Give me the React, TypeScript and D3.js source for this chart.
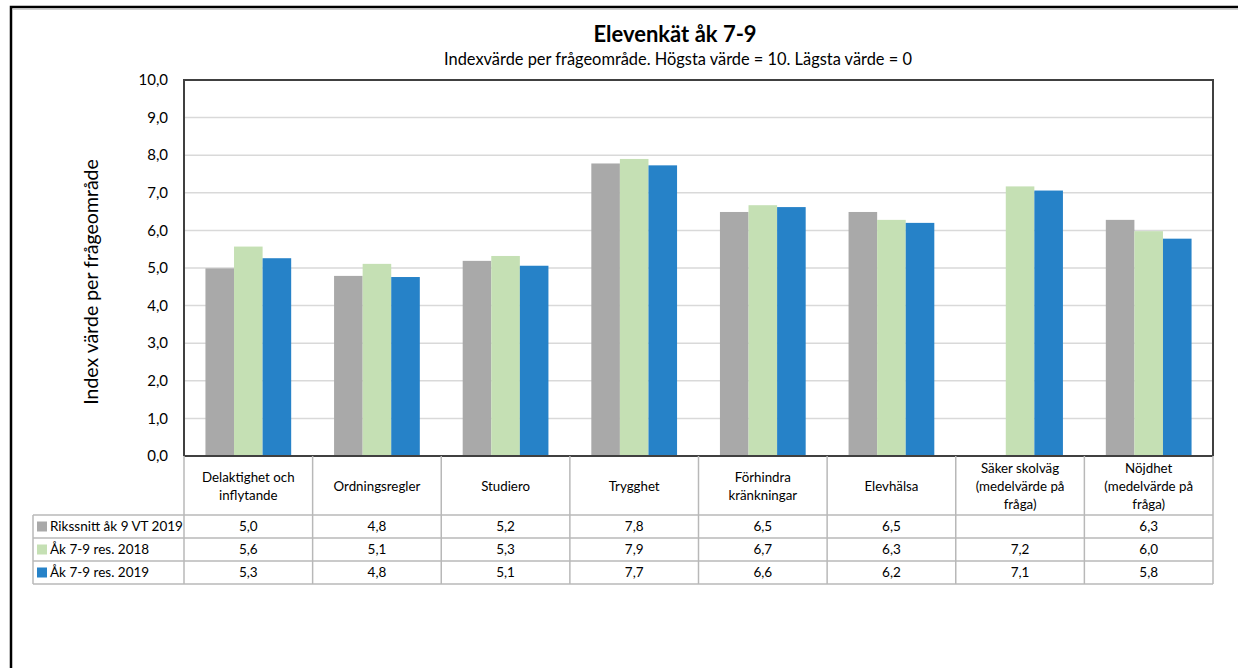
import React from "react";
import * as d3 from "d3";

const categories: string[][] = [
  ["Delaktighet och", "inflytande"],
  ["Ordningsregler"],
  ["Studiero"],
  ["Trygghet"],
  ["Förhindra", "kränkningar"],
  ["Elevhälsa"],
  ["Säker skolväg", "(medelvärde på", "fråga)"],
  ["Nöjdhet", "(medelvärde på", "fråga)"],
];
const seriesNames = ["Rikssnitt åk 9 VT 2019", "Åk 7-9 res. 2018", "Åk 7-9 res. 2019"];
const seriesColors = ["#a9a9a9", "#c5e0b4", "#2682c8"];
const riksValues: (number | null)[] = [4.99, 4.79, 5.19, 7.78, 6.49, 6.49, null, 6.28];
const res2018Values: (number | null)[] = [5.57, 5.11, 5.32, 7.9, 6.67, 6.28, 7.17, 5.98];
const res2019Values: (number | null)[] = [5.26, 4.76, 5.06, 7.73, 6.62, 6.2, 7.06, 5.78];
const yTicks = [0, 1, 2, 3, 4, 5, 6, 7, 8, 9, 10];
const title = "Elevenkät åk 7-9";
const subtitle = "Indexvärde per frågeområde. Högsta värde = 10. Lägsta värde = 0";
const yLabel = "Index värde per frågeområde";

const FONT = "Lato, 'Open Sans', sans-serif";

export default function App() {
  const W = 1238, H = 668;
  const left = 184, right = 1213, top = 80, bottom = 456;
  const legendLeft = 33;
  const headerBottom = 515;
  const rowH = 23;
  const series = [riksValues, res2018Values, res2019Values];

  const y = d3.scaleLinear().domain([0, 10]).range([bottom, top]);
  const x = d3.scaleBand<number>().domain(categories.map((_, i) => i)).range([left, right]).padding(0);
  const bw = x.bandwidth();
  const inner = d3.scaleBand<number>().domain([0, 1, 2]).range([bw * 0.1667, bw * 0.8333]).padding(0);
  const fmt = (v: number | null) => (v == null ? "" : v.toFixed(1).replace(".", ","));
  const gridColor = "#d9d9d9";
  const tableColor = "#b8b8b8";
  const axisColor = "#404040";

  return (
    <svg width={W} height={H} style={{ position: "absolute", left: 0, top: 0, background: "#fff" }}>
      <rect x={0} y={0} width={W} height={H} fill="#fff" />
      {/* outer frame */}
      <path d={`M11,${H} L11,7 L${W},7`} fill="none" stroke="#000" strokeWidth={2.5} />
      <line x1={13} x2={W} y1={9.5} y2={9.5} stroke="#d0d0d0" strokeWidth={1} />

      <text x={675} y={42} textAnchor="middle" fontFamily={FONT} fontWeight="bold" fontSize={22} fill="#000">
        {title}
      </text>
      <text x={678} y={65} textAnchor="middle" fontFamily={FONT} fontSize={16.4} fill="#000">
        {subtitle}
      </text>

      {/* gridlines */}
      {yTicks.map((t) => (
        <line key={"g" + t} x1={left} x2={right} y1={y(t)} y2={y(t)} stroke={gridColor} strokeWidth={1.5} />
      ))}
      {/* y tick labels */}
      {yTicks.map((t) => (
        <text key={"t" + t} x={168} y={y(t)} dy="0.35em" textAnchor="end" fontFamily={FONT} fontSize={15} fill="#000">
          {fmt(t)}
        </text>
      ))}
      <text
        transform={`translate(98,${(top + bottom) / 2 + 14}) rotate(-90)`}
        textAnchor="middle"
        fontFamily={FONT}
        fontSize={19.5}
        fill="#000"
      >
        {yLabel}
      </text>

      {/* bars */}
      {series.map((vals, s) =>
        vals.map((v, i) =>
          v == null ? null : (
            <rect
              key={`b${s}-${i}`}
              x={(x(i) as number) + (inner(s) as number)}
              y={y(v)}
              width={inner.bandwidth()}
              height={y(0) - y(v)}
              fill={seriesColors[s]}
            />
          )
        )
      )}

      {/* plot frame */}
      <path d={`M${left},${bottom} L${left},${top} L${right},${top} L${right},${bottom}`} fill="none" stroke={axisColor} strokeWidth={2} />

      {/* table */}
      <g>
        <line x1={left} x2={right} y1={bottom} y2={bottom} stroke={axisColor} strokeWidth={2} />
        {[0, 1, 2, 3].map((r) => (
          <line key={"h" + r} x1={legendLeft} x2={right} y1={headerBottom + r * rowH} y2={headerBottom + r * rowH} stroke={tableColor} strokeWidth={1.5} />
        ))}
        <line x1={legendLeft} x2={legendLeft} y1={headerBottom} y2={headerBottom + 3 * rowH} stroke={tableColor} strokeWidth={1.5} />
        {categories.map((_, i) => (
          <line key={"v" + i} x1={x(i) as number} x2={x(i) as number} y1={bottom} y2={headerBottom + 3 * rowH} stroke={tableColor} strokeWidth={1.5} />
        ))}
        <line x1={right} x2={right} y1={bottom} y2={headerBottom + 3 * rowH} stroke={tableColor} strokeWidth={1.5} />

        {categories.map((lines, i) => {
          const cx = (x(i) as number) + bw / 2;
          const lh = 18.3;
          const cy = (bottom + headerBottom) / 2 + 1;
          return (
            <text key={"c" + i} textAnchor="middle" fontFamily={FONT} fontSize={13.3} fill="#000">
              {lines.map((ln, k) => (
                <tspan key={k} x={cx} y={cy + (k - (lines.length - 1) / 2) * lh} dy="0.35em">
                  {ln}
                </tspan>
              ))}
            </text>
          );
        })}

        {series.map((vals, s) => {
          const cy = headerBottom + s * rowH + rowH / 2;
          return (
            <g key={"r" + s}>
              <rect x={37} y={cy - 5} width={10} height={10} fill={seriesColors[s]} />
              <text x={50} y={cy} dy="0.35em" fontFamily={FONT} fontSize={13.5} fill="#000">
                {seriesNames[s]}
              </text>
              {vals.map((v, i) => (
                <text key={i} x={(x(i) as number) + bw / 2} y={cy} dy="0.35em" textAnchor="middle" fontFamily={FONT} fontSize={13.5} fill="#000">
                  {fmt(v)}
                </text>
              ))}
            </g>
          );
        })}
      </g>
    </svg>
  );
}
